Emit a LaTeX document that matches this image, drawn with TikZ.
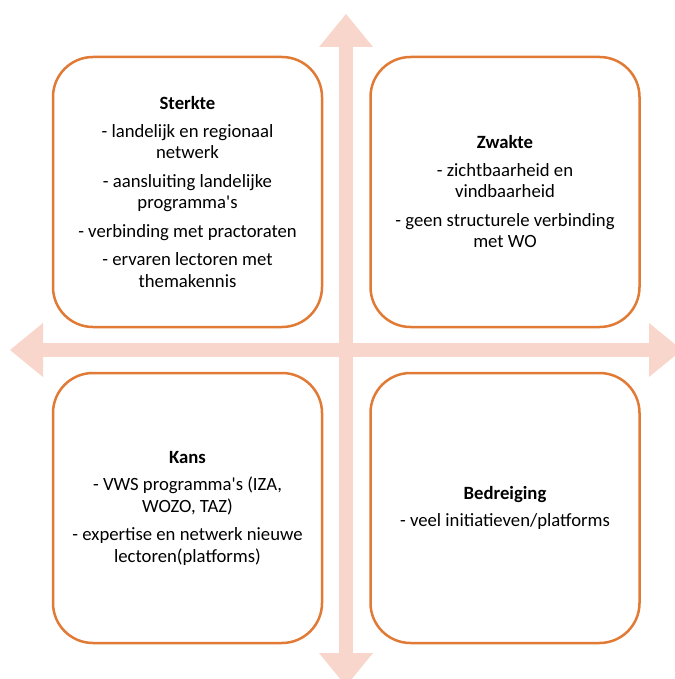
\documentclass[tikz,border=0pt]{standalone}
\usepackage{fontspec}
\setmainfont{Carlito}
\usetikzlibrary{arrows.meta}
\definecolor{boxorange}{HTML}{E07A35}
\definecolor{crosspink}{HTML}{F8D6CB}
\tikzstyle{quadrant} = [
    rectangle,
    rounded corners=40pt,
    minimum width=269pt,
    minimum height=270pt,
    draw=boxorange,
    line width=2.5pt,
    align=center,
    font=\fontsize{18.7}{21.5}\selectfont
]
\tikzstyle{bigarrow} = [
    line width=14pt,
    draw=crosspink,
    {Triangle[length=33pt,width=54pt,line width=0pt]}-{Triangle[length=33pt,width=54pt,line width=0pt]}
]

\begin{document}
\begin{tikzpicture}[x=1pt,y=-1pt]

\useasboundingbox (0,0) rectangle (674,679);

\coordinate (west) at (10,350);
\coordinate (east) at (682,350);
\coordinate (north) at (346,14);
\coordinate (south) at (346,686);

\draw [bigarrow] (west) -- (east);
\draw [bigarrow] (north) -- (south);

\node (sterkte) [quadrant] at (187.5,192)
{\textbf{Sterkte}\\[6pt]
- landelijk en regionaal\\ netwerk\\[7pt]
- aansluiting landelijke\\ programma\textquotesingle s\\[7pt]
- verbinding met practoraten\\[7pt]
- ervaren lectoren met\\ themakennis};

\node (zwakte) [quadrant] at (505,192)
{\textbf{Zwakte}\\[6pt]
- zichtbaarheid en\\ vindbaarheid\\[7pt]
- geen structurele verbinding\\ met WO};

\node (kans) [quadrant] at (187.5,508)
{\textbf{Kans}\\[6pt]
- VWS programma\textquotesingle s (IZA,\\ WOZO, TAZ)\\[7pt]
- expertise en netwerk nieuwe\\ lectoren(platforms)};

\node (bedreiging) [quadrant] at (505,508)
{\textbf{Bedreiging}\\[6pt]
- veel initiatieven/platforms};

\end{tikzpicture}
\end{document}
